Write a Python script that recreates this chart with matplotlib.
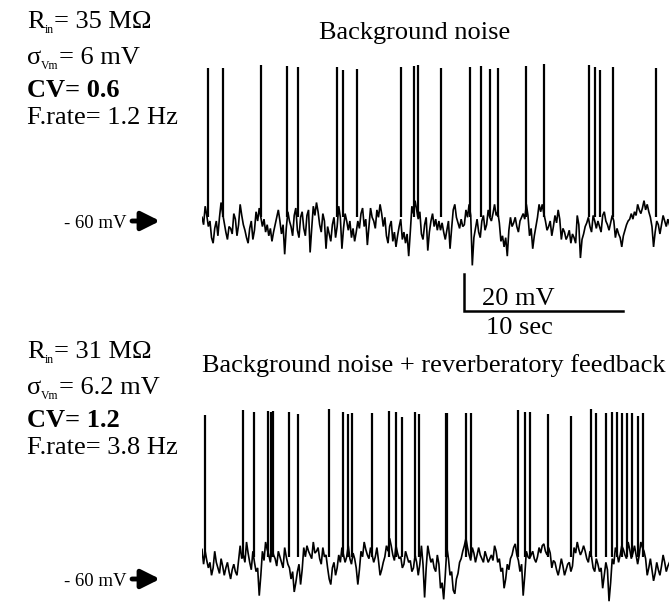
import matplotlib
matplotlib.use('Agg')
import matplotlib.pyplot as plt
import numpy as np

plt.rcParams['font.family'] = 'Liberation Serif'

# hand-read membrane noise: samples every 0.2 s (a) plus the in-between samples (b)
dt = 0.2
rest = -60.0

# top trace: background noise, mV relative to -60 mV
noise_top_a = [2, 8, -3, -9, -4, -8, 10, -1, -10, -4, 4, -8, 9, -2, -9, -4, -10, 5, 7, -3,
               -6, -8, -11, -2, 6, -7, -18, 5, -3, 3, -5, 2, -4, 3, -17, 8, 10, -2, 4, -15,
               -7, -2, -9, 8, -15, 4, -5, -9, -11, 0, 4, -3, -13, 7, 0, 6, 9, -3, -8, -3,
               -11, -14, -3, -10, -12, -19, 8, 11, 1, -7, -2, -16, 0, -3, -5, -5, -6, -5, -15, 6,
               2, -4, -3, 6, 9, -24, -4, -6, 0, -5, 6, 0, 9, 5, -11, -14, -19, 2, -1, -3,
               0, 4, 9, -8, -15, -3, 9, 9, 0, -3, -8, 3, 6, -10, -6, -8, -12, -9, 3, -20,
               -7, -1, -3, 3, -4, -3, 3, 0, -5, 3, -9, -7, -14, -5, 0, 4, 5, 9, 4, 11,
               9, 2, -14, 0, -7, 3, -3, -2]
noise_top_b = [-2, 3, 0, -12, 0, 2, 4, -6, -3, -7, 1, -2, 3, -5, -12, 0, -5, 0, 2, 1,
               -2, -4, -6, 2, 0, -2, -4, 0, -8, 7, -9, 5, -8, 6, -4, 3, 5, -6, 0, -3,
               -11, 2, -3, 2, -4, 0, 0, -4, -6, -4, 7, 1, -3, 2, -4, 2, 4, 2, -12, 0,
               -6, -8, 1, -6, -7, -6, 4, 6, 5, -10, 2, -6, 4, 1, 0, -1, -10, 0, -4, 9,
               -1, 1, -2, 2, 3, -9, 1, -9, 3, -2, 2, 4, 3, -1, -8, -9, -5, -3, 2, -6,
               2, 1, 3, -4, -8, 2, 5, 4, -5, 0, -3, -1, 1, -4, -10, -5, -7, -12, -2, -10,
               -3, 2, -6, 0, 0, -6, 5, -2, -1, 0, -4, -9, -8, -2, 1, 1, 3, 6, 7, 6,
               5, -3, -6, -2, -2, 0, 1]
# spike times (sec) and peak potentials (mV)
spikes_top = [0.36, 1.30, 3.73, 5.35, 6.02, 8.51, 8.85, 9.73, 12.50, 13.31, 13.58, 15.05,
              16.86, 17.57, 18.09, 18.60, 20.36, 21.49, 24.32, 24.74, 25.03, 25.83, 28.53]
peaks_top = [22.7, 22.7, 24.3, 23.8, 23.2, 23.2, 21.6, 22.2, 23.2, 23.8, 24.3, 22.7,
             23.2, 23.8, 22.2, 22.7, 23.8, 24.9, 24.3, 23.2, 21.6, 23.2, 22.7]

# bottom trace: noise + reverberatory feedback, mV relative to -60 mV
noise_bot_a = [16, 15, 6, 2, 15, 6, 11, 2, 9, 0, 8, 2, 18, 13, 20, 9, 15, 4, -9, 15,
               20, 13, 17, 11, 15, 9, 17, 8, 0, -7, 4, -3, 17, 18, 13, 20, 15, 11, 17, 13,
               0, 6, 2, 13, 17, 9, 18, 8, 11, -3, 15, 20, 13, 17, 9, 17, 2, 9, 18, 22,
               13, 18, 11, 6, 15, 9, 4, 13, 2, 18, -10, 18, 9, 6, 13, -5, -11, 17, 2, -6,
               0, 9, 15, 22, 13, 17, 9, 17, 11, 15, 9, 13, 18, 9, 4, -5, 8, 11, 17, 13,
               4, -9, 15, 11, 15, 9, 17, 18, 15, 17, 6, 9, 2, 11, 2, 8, 4, 17, 20, 13,
               18, 11, 15, 6, 11, 4, -5, 9, -12, 11, 17, 9, 18, 13, 20, 11, 18, 8, 20, 15,
               2, 11, -1, 9, 2, 13, 4, 9]
noise_bot_b = [8, 10, 9, 6, 9, 3, 7, 6, 4, 5, 4, 10, 11, 9, 14, 5, 9, 6, 2, 10,
               16, 9, 13, 7, 12, 6, 12, 6, 4, -2, 8, 5, 12, 15, 11, 14, 17, 8, 12, 6,
               -3, 9, 6, 9, 13, 12, 11, 14, 6, 5, 12, 16, 11, 13, 12, 10, 5, 12, 15, 18,
               10, 14, 12, 8, 12, 10, 6, 9, 8, 8, 6, 13, 11, 4, 8, -2, 2, 11, 4, -8,
               3, 11, 18, 17, 10, 14, 13, 13, 9, 12, 11, 10, 15, 11, 6, 0, 5, 13, 19, 10,
               8, 2, 12, 13, 11, 12, 14, 19, 13, 14, 10, 5, 6, 7, 5, 9, 7, 14, 16, 15,
               15, 9, 12, 4, 8, 6, 2, 5, -2, 8, 14, 13, 16, 11, 16, 14, 13, 13, 17, 11,
               6, 5, 3, 5, 7, 9, 7]
spikes_bot = [0.19, 2.60, 3.25, 4.15, 4.34, 4.48, 5.47, 6.04, 7.99, 8.89, 9.16, 9.45,
              10.67, 11.76, 12.18, 12.58, 13.40, 13.65, 15.35, 15.43, 16.58, 16.90, 19.86,
              20.31, 20.63, 21.76, 23.19, 24.47, 24.76, 25.41, 25.77, 26.12, 26.43, 26.71,
              27.02, 27.44, 27.72]
peaks_bot = [28.6, 31.4, 30.3, 30.8, 30.3, 30.8, 30.3, 29.2, 31.9, 30.3, 29.2, 29.7,
             29.7, 30.8, 30.3, 27.6, 30.3, 29.2, 29.7, 29.7, 29.7, 29.7, 31.4, 30.3,
             30.3, 29.2, 28.1, 31.9, 29.7, 29.7, 30.3, 30.3, 29.7, 29.7, 29.7, 28.1, 29.7]

# (main text, subscript, rest of line)
info_top = [('R', 'in', '= 35 MΩ'), ('σ', 'Vm', '= 6 mV'), ('CV= 0.6', '', ''),
            ('F.rate= 1.2 Hz', '', '')]
info_bot = [('R', 'in', '= 31 MΩ'), ('σ', 'Vm', '= 6.2 mV'), ('CV= 1.2', '', ''),
            ('F.rate= 3.8 Hz', '', '')]

W, H = 670, 603
fig = plt.figure(figsize=(W/100, H/100), dpi=100)
renderer = fig.canvas.get_renderer()

px_per_s = 15.9
px_per_mv = 1.85
x0 = 202
tmax = (669 - x0)/px_per_s


def trace_axes(ytop, ybot, yrest):
  ax = fig.add_axes([x0/W, 1 - ybot/H, (669 - x0)/W, (ybot - ytop)/H])
  ax.set_xlim(0, tmax)
  ax.set_ylim(rest - (ybot - yrest)/px_per_mv, rest + (yrest - ytop)/px_per_mv)
  ax.axis('off')
  return ax


def draw_trace(ax, noise_a, noise_b, spikes, peaks, thresh):
  t = np.concatenate([np.arange(len(noise_a))*dt, np.arange(len(noise_b))*dt + dt/2])
  v = rest + np.array(noise_a + noise_b, dtype=float)
  order = np.argsort(t)
  ax.plot(t[order], v[order], color='black', lw=1.2, solid_joinstyle='miter')
  ax.vlines(spikes, rest + thresh, peaks, color='black', lw=1.6)
  ax.annotate('', xy=(-2.64, rest), xytext=(-4.40, rest), annotation_clip=False,
              arrowprops=dict(arrowstyle='-|>', lw=3.5, color='black', mutation_scale=28,
                              shrinkA=0, shrinkB=0))
  ax.text(-4.75, rest - 1.5, '- 60 mV', ha='right', va='center', fontsize=13.5)


ax1 = trace_axes(55, 340, 221)
draw_trace(ax1, noise_top_a, noise_top_b, spikes_top, peaks_top, 2)
ax2 = trace_axes(395, 603, 579)
draw_trace(ax2, noise_bot_a, noise_bot_b, spikes_bot, peaks_bot, 12)

# scale bar: 20 mV, 10 sec
sb_t = 16.48
sb_v = -108.6
ax1.plot([sb_t, sb_t, sb_t + 10], [sb_v + 20, sb_v, sb_v], color='black', lw=1.8,
         solid_joinstyle='miter', clip_on=False)
ax1.text(sb_t + 1.1, sb_v + 6.5, '20 mV', ha='left', va='center', fontsize=19)
ax1.text(sb_t + 3.5, sb_v - 9, '10 sec', ha='center', va='center', fontsize=19)

fig.text(415/W, 1 - 33/H, 'Background noise', ha='center', va='center', fontsize=19)
fig.text(434/W, 1 - 366/H, 'Background noise + reverberatory feedback', ha='center',
         va='center', fontsize=19)


def put(x, y, s, fs, weight='normal'):
  t = fig.text(x/W, 1 - y/H, s, ha='left', va='baseline', fontsize=fs, weight=weight)
  return t.get_window_extent(renderer).x1


for lines, yb in ((info_top, [28, 64, 97, 124]), (info_bot, [358, 394, 427, 454])):
  for (main, sub, tail), y in zip(lines, yb):
    weight = 'bold' if main.startswith('CV') else 'normal'
    x = put(27, y, main, 19, weight)
    if sub:
      x = put(x, y + 5, sub, 8.5)
      put(x, y, tail, 19)

fig.savefig('out.png', dpi=100)
plt.close(fig)
